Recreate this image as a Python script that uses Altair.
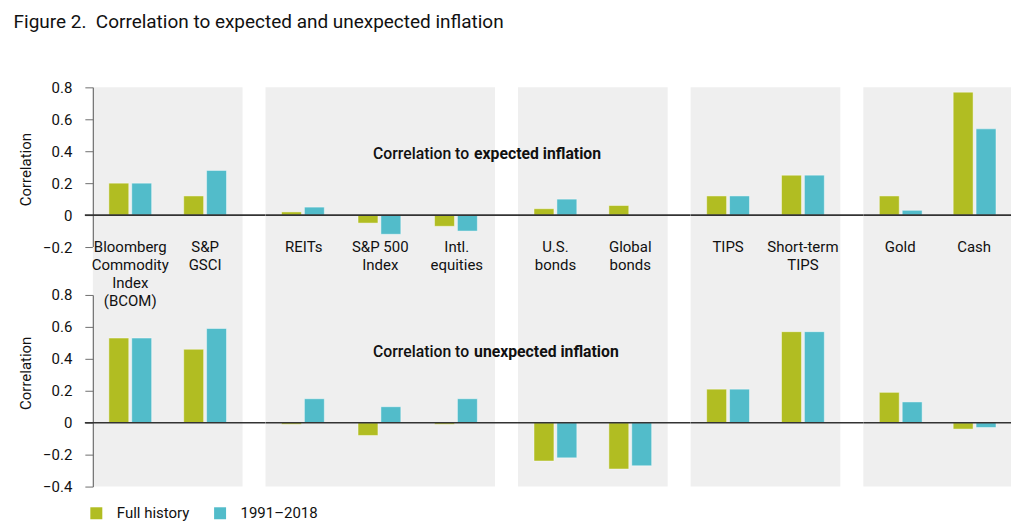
import altair as alt
import pandas as pd

# ---------------- data ----------------
categories = ["Bloomberg Commodity Index (BCOM)", "S&P GSCI", "REITs", "S&P 500 Index",
              "Intl. equities", "U.S. bonds", "Global bonds", "TIPS", "Short-term TIPS",
              "Gold", "Cash"]
cat_labels = ["Bloomberg\nCommodity\nIndex\n(BCOM)", "S&P\nGSCI", "REITs", "S&P 500\nIndex",
              "Intl.\nequities", "U.S.\nbonds", "Global\nbonds", "TIPS", "Short-term\nTIPS",
              "Gold", "Cash"]
group_of = [0, 0, 1, 1, 1, 2, 2, 3, 3, 4, 4]
series_names = ["Full history", "1991\u20132018"]

expected_full = [0.20, 0.12, 0.02, -0.05, -0.07, 0.04, 0.06, 0.12, 0.25, 0.12, 0.77]
expected_recent = [0.20, 0.28, 0.05, -0.12, -0.10, 0.10, None, 0.12, 0.25, 0.03, 0.54]
unexpected_full = [0.53, 0.46, -0.01, -0.08, -0.01, -0.24, -0.29, 0.21, 0.57, 0.19, -0.04]
unexpected_recent = [0.53, 0.59, 0.15, 0.10, 0.15, -0.22, -0.27, 0.21, 0.57, 0.13, -0.03]

top_ticks = [-0.2, 0.0, 0.2, 0.4, 0.6, 0.8]
bottom_ticks = [-0.4, -0.2, 0.0, 0.2, 0.4, 0.6, 0.8]

title_text = "Figure 2.\u00a0 Correlation to expected and unexpected inflation"
note_lead = "Correlation to"
note_top = "expected inflation"
note_bottom = "unexpected inflation"

# ---------------- style ----------------
FONT = "Roboto"
GRAY = "#efefef"
colors = ["#b1bd22", "#52bcca"]
panel_widths = [150, 230, 150, 150, 148]
COL_GAP = 23
ROW_GAP = 48
TOP_H = 160
BOT_H = 192

rows = []
for panel, (full, recent) in {"expected": (expected_full, expected_recent),
                              "unexpected": (unexpected_full, unexpected_recent)}.items():
    for i, c in enumerate(categories):
        for s, vals in zip(series_names, (full, recent)):
            if vals[i] is None:
                continue
            rows.append(dict(panel=panel, category=c, label=cat_labels[i],
                             group=group_of[i], series=s, value=vals[i]))
df = pd.DataFrame(rows)
label_df = pd.DataFrame({"category": categories, "label": cat_labels, "group": group_of})
one = pd.DataFrame({"k": [0]})


def make_panel(panel, g):
    is_bottom = panel == "unexpected"
    cats = [c for c, gi in zip(categories, group_of) if gi == g]
    sub = df[(df.panel == panel) & (df.group == g)]
    first = g == 0
    last = g == 4
    height = BOT_H if is_bottom else TOP_H
    domain = [-0.4, 0.8] if is_bottom else [-0.2, 0.8]
    ticks = bottom_ticks if is_bottom else top_ticks
    yscale = alt.Scale(domain=domain, nice=False, zero=False)
    xscale = alt.Scale(domain=cats, paddingInner=0, paddingOuter=0)
    xenc = alt.X("category:N", sort=cats, scale=xscale, axis=None)

    if first:
        yaxis = alt.Axis(values=ticks, format=".1~f", tickSize=8, tickColor="#6f6f6f",
                         domainColor="#6f6f6f", tickWidth=1, domainWidth=1.2,
                         labelFontSize=15, labelColor="#111111", labelPadding=13,
                         grid=False, title="Correlation", titleFontSize=15,
                         titleFontWeight="normal", titleColor="#111111", titlePadding=9,
                         titleY=78 if is_bottom else 82)
    else:
        yaxis = None

    layers = []
    if is_bottom:
        layers.append(alt.Chart(one).mark_rect(color=GRAY).encode(
            x=alt.value(0), x2=alt.value("width"), y=alt.value(-ROW_GAP), y2=alt.value(0)))

    bars = alt.Chart(sub).mark_bar(stroke="white", strokeOpacity=0.45, strokeWidth=1).encode(
        x=xenc,
        xOffset=alt.XOffset("series:N", sort=series_names,
                            scale=alt.Scale(domain=series_names, paddingInner=0.13,
                                            paddingOuter=0.7)),
        y=alt.Y("value:Q", scale=yscale, axis=yaxis),
        color=alt.Color("series:N", sort=series_names,
                        scale=alt.Scale(domain=series_names, range=colors),
                        legend=alt.Legend(orient="none", legendX=-4, legendY=TOP_H + ROW_GAP + BOT_H + 19,
                                          direction="horizontal", title=None,
                                          symbolType="square", symbolSize=144,
                                          symbolStrokeWidth=0, labelFontSize=15,
                                          labelColor="#111111", labelOffset=13,
                                          columnPadding=23)),
    )
    layers.append(bars)

    rule_kw = {} if last else {"x2Offset": COL_GAP}
    layers.append(alt.Chart(one).mark_rule(color="#333333", strokeWidth=1.6, **rule_kw).encode(
        x=alt.value(-8 if first else 0), x2=alt.value("width"),
        y=alt.Y(datum=0, scale=yscale, axis=yaxis)))

    if is_bottom:
        lab = label_df[label_df.group == g]
        layers.append(alt.Chart(lab).mark_text(baseline="top", lineBreak="\n", fontSize=15,
                                               lineHeight=18, color="#111111").encode(
            x=xenc, y=alt.value(-55), text="label:N"))

    if g == 2:
        ydat = 0.445 if is_bottom else 0.385
        second = note_bottom if is_bottom else note_top
        layers.append(alt.Chart(one).mark_text(align="right", baseline="middle", fontSize=15.8,
                                               fontWeight=500, color="#111111",
                                               text=note_lead).encode(
            x=alt.value(-49), y=alt.Y(datum=ydat, scale=yscale, axis=yaxis)))
        layers.append(alt.Chart(one).mark_text(align="left", baseline="middle", fontSize=15.8,
                                               fontWeight="bold", color="#111111",
                                               text=second).encode(
            x=alt.value(-44), y=alt.Y(datum=ydat, scale=yscale, axis=yaxis)))

    return alt.layer(*layers).properties(width=panel_widths[g], height=height)


cells = [make_panel("expected", g) for g in range(5)] + [make_panel("unexpected", g) for g in range(5)]

chart = alt.concat(*cells, columns=5, spacing={"row": ROW_GAP, "column": COL_GAP},
                   bounds="flush", align="each").properties(
    title=alt.TitleParams(text=title_text, anchor="start", fontSize=19, fontWeight="normal",
                          color="#111111", dx=-5, offset=48, font=FONT)
).configure(font=FONT).configure_view(fill=GRAY, strokeWidth=0)

chart.save("out.html", embed_options={"renderer": "svg", "actions": False})
